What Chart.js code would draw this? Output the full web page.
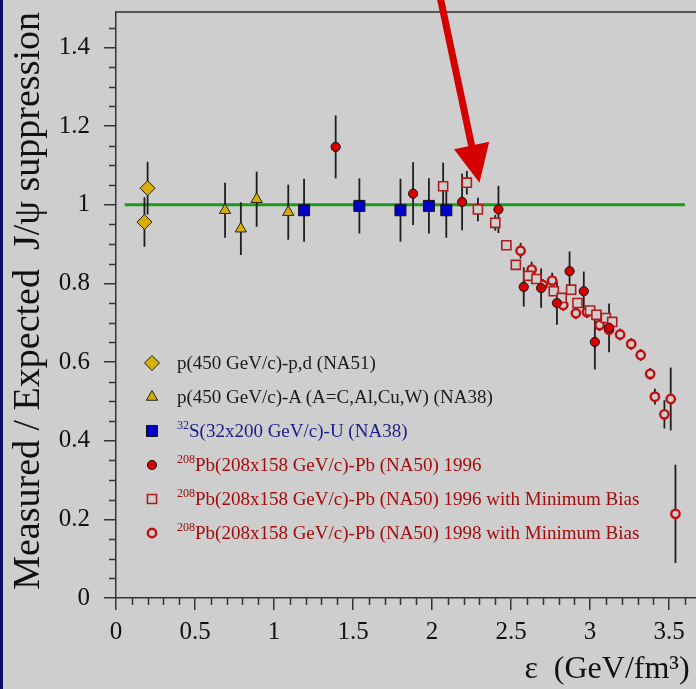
<!DOCTYPE html>
<html>
<head>
<meta charset="utf-8">
<script src="https://cdn.jsdelivr.net/npm/chart.js@4.4.0/dist/chart.umd.min.js"></script>
<style>
  html, body { margin: 0; padding: 0; background: #cecece; }
  #wrap { position: relative; width: 696px; height: 689px; overflow: hidden; background: #cecece; }
  #edge { position: absolute; left: 0; top: 0; width: 3px; height: 689px; background: #0b0b6a; }
  #legend { position: absolute; left: 139px; top: 346px; font-family: 'Liberation Serif', serif; font-size: 19px; }
  .row { height: 34px; display: flex; align-items: center; white-space: nowrap; }
  .row canvas { width: 26px; height: 26px; margin-right: 12px; }
  .row sup { font-size: 12px; vertical-align: 8px; line-height: 0; }
</style>
</head>
<body>
<div id="wrap">
  <canvas id="chart" width="696" height="689"></canvas>
  <div id="edge"></div>
  <div id="legend"></div>
</div>
<script>
// axis ticks
const xTickValues = [0, 0.5, 1, 1.5, 2, 2.5, 3, 3.5];
const xTickLabels = ['0', '0.5', '1', '1.5', '2', '2.5', '3', '3.5'];
const yTickValues = [0, 0.2, 0.4, 0.6, 0.8, 1, 1.2, 1.4];
const yTickLabels = ['0', '0.2', '0.4', '0.6', '0.8', '1', '1.2', '1.4'];

// p(450 GeV/c)-p,d (NA51)
const na51X = [0.20, 0.18];
const na51Y = [1.042, 0.956];
const na51Err = [0.067, 0.063];

// p(450 GeV/c)-A (NA38)
const na38pX = [0.69, 0.79, 0.89, 1.09];
const na38pY = [0.986, 0.939, 1.014, 0.981];
const na38pErr = [0.07, 0.067, 0.07, 0.07];

// 32S-U (NA38)
const suX = [1.19, 1.54, 1.80, 1.98, 2.09];
const suY = [0.986, 0.997, 0.986, 0.997, 0.986];
const suErr = [0.08, 0.07, 0.08, 0.07, 0.07];

// Pb-Pb 1996
const pb96X = [1.39, 1.88, 2.19, 2.42, 2.58, 2.69, 2.79, 2.87, 2.96, 3.03, 3.12];
const pb96Y = [1.147, 1.028, 1.007, 0.988, 0.791, 0.788, 0.750, 0.831, 0.780, 0.651, 0.687];
const pb96Err = [0.08, 0.08, 0.072, 0.06, 0.05, 0.05, 0.055, 0.05, 0.05, 0.07, 0.062];

// Pb-Pb 1996 with minimum bias
const pb96mbX = [2.07, 2.22, 2.29, 2.40, 2.47, 2.53, 2.61, 2.66, 2.77, 2.82, 2.88, 2.92, 3.00, 3.04, 3.10, 3.14];
const pb96mbY = [1.047, 1.056, 0.988, 0.954, 0.897, 0.847, 0.819, 0.811, 0.780, 0.763, 0.784, 0.750, 0.731, 0.720, 0.712, 0.702];
const pb96mbErr = [0.06, 0.03, 0.03, 0.02, 0, 0, 0, 0, 0, 0, 0, 0, 0, 0, 0, 0];

// Pb-Pb 1998 with minimum bias
const pb98mbX = [2.56, 2.63, 2.70, 2.76, 2.83, 2.91, 2.98, 3.06, 3.12, 3.19, 3.26, 3.32, 3.38, 3.41, 3.47, 3.51, 3.54];
const pb98mbY = [0.883, 0.835, 0.796, 0.807, 0.745, 0.724, 0.727, 0.694, 0.682, 0.670, 0.646, 0.618, 0.570, 0.512, 0.467, 0.506, 0.214];
const pb98mbErr = [0.02, 0.02, 0.015, 0.02, 0.015, 0.015, 0.015, 0.015, 0.015, 0.015, 0.015, 0.015, 0.015, 0.02, 0.036, 0.08, 0.125];

// reference line at 1 and the red arrow (data units)
const refLineX = [0.055, 3.60];
const refLineY = [1, 1];
const arrowTail = [2.05, 1.53];
const arrowTip = [2.30, 1.056];

const legendSup = ['', '', '32', '208', '208', '208'];
const legendText = [
  'p(450 GeV/c)-p,d (NA51)',
  'p(450 GeV/c)-A (A=C,Al,Cu,W) (NA38)',
  'S(32x200 GeV/c)-U (NA38)',
  'Pb(208x158 GeV/c)-Pb (NA50) 1996',
  'Pb(208x158 GeV/c)-Pb (NA50) 1996 with Minimum Bias',
  'Pb(208x158 GeV/c)-Pb (NA50) 1998 with Minimum Bias'
];
const legendColor = ['#1a1a1a', '#1a1a1a', '#1c1c8c', '#a30c0c', '#a30c0c', '#a30c0c'];

const BG = '#cecece';
const FONT = "'Liberation Serif', 'Times New Roman', serif";

function pts(xs, ys) {
  return xs.map((x, i) => ({ x: x, y: ys[i] }));
}

const datasets = [
  { label: legendText[0], data: pts(na51X, na51Y), errs: na51Err, pointStyle: 'rectRot', pointRadius: 7.5,
    backgroundColor: '#d6ad00', borderColor: '#222', borderWidth: 1 },
  { label: legendText[1], data: pts(na38pX, na38pY), errs: na38pErr, pointStyle: 'triangle', pointRadius: 6.5,
    backgroundColor: '#d6ad00', borderColor: '#222', borderWidth: 1 },
  { label: legendText[2], data: pts(suX, suY), errs: suErr, pointStyle: 'rect', pointRadius: 7.8,
    backgroundColor: '#0000c8', borderColor: '#111', borderWidth: 1 },
  { label: legendText[3], data: pts(pb96X, pb96Y), errs: pb96Err, pointStyle: 'circle', pointRadius: 4.6,
    backgroundColor: '#d40000', borderColor: '#111', borderWidth: 1 },
  { label: legendText[4], data: pts(pb96mbX, pb96mbY), errs: pb96mbErr, pointStyle: 'rect', pointRadius: 6.4,
    backgroundColor: BG, borderColor: '#b01c1c', borderWidth: 1.6 },
  { label: legendText[5], data: pts(pb98mbX, pb98mbY), errs: pb98mbErr, pointStyle: 'circle', pointRadius: 4.2,
    backgroundColor: BG, borderColor: '#c40d0d', borderWidth: 2.4 },
  { type: 'line', label: 'ref', data: pts(refLineX, refLineY), borderColor: '#1c9a1c', borderWidth: 3,
    pointRadius: 0, showLine: true }
];

const decor = {
  id: 'decor',
  afterDatasetDraw(chart, args) {
    // error bars go right after the reference line, under the markers
    if (args.index !== chart.data.datasets.length - 1) return;
    const xs = chart.scales.x, ys = chart.scales.y, ctx = chart.ctx;
    ctx.save();
    ctx.strokeStyle = '#1e1e1e';
    ctx.lineWidth = 1.8;
    chart.data.datasets.forEach(ds => {
      if (!ds.errs) return;
      ds.data.forEach((p, i) => {
        const e = ds.errs[i];
        if (!e) return;
        const px = xs.getPixelForValue(p.x);
        ctx.beginPath();
        ctx.moveTo(px, ys.getPixelForValue(p.y + e));
        ctx.lineTo(px, ys.getPixelForValue(p.y - e));
        ctx.stroke();
      });
    });
    ctx.restore();
  },
  afterDraw(chart) {
    const xs = chart.scales.x, ys = chart.scales.y, ctx = chart.ctx, a = chart.chartArea;
    ctx.save();
    // minor ticks
    ctx.strokeStyle = '#333';
    ctx.lineWidth = 1.5;
    for (let v = 0.1; v < xs.max; v += 0.1) {
      if (Math.abs(v * 2 - Math.round(v * 2)) < 1e-6) continue;
      const px = Math.round(xs.getPixelForValue(v)) + 0.5;
      ctx.beginPath(); ctx.moveTo(px, a.bottom); ctx.lineTo(px, a.bottom + 7); ctx.stroke();
    }
    for (let v = 0.05; v < ys.max; v += 0.05) {
      if (Math.abs(v * 5 - Math.round(v * 5)) < 1e-6) continue;
      const py = Math.round(ys.getPixelForValue(v)) + 0.5;
      ctx.beginPath(); ctx.moveTo(a.left, py); ctx.lineTo(a.left - 7, py); ctx.stroke();
    }
    // top frame
    ctx.strokeStyle = '#555';
    ctx.lineWidth = 2;
    ctx.beginPath(); ctx.moveTo(a.left, a.top); ctx.lineTo(chart.width, a.top); ctx.stroke();
    // red arrow
    const x0 = xs.getPixelForValue(arrowTail[0]), y0 = ys.getPixelForValue(arrowTail[1]);
    const x1 = xs.getPixelForValue(arrowTip[0]), y1 = ys.getPixelForValue(arrowTip[1]);
    const len = Math.hypot(x1 - x0, y1 - y0);
    const ux = (x1 - x0) / len, uy = (y1 - y0) / len;
    const headLen = 38, headHalf = 18;
    const bx = x1 - ux * headLen, by = y1 - uy * headLen;
    ctx.strokeStyle = '#d40000';
    ctx.lineWidth = 7;
    ctx.beginPath(); ctx.moveTo(x0, y0); ctx.lineTo(bx + ux * 2, by + uy * 2); ctx.stroke();
    ctx.fillStyle = '#d40000';
    ctx.beginPath();
    ctx.moveTo(x1, y1);
    ctx.lineTo(bx - uy * headHalf, by + ux * headHalf);
    ctx.lineTo(bx + uy * headHalf, by - ux * headHalf);
    ctx.closePath();
    ctx.fill();
    ctx.restore();
  }
};

const chart = new Chart(document.getElementById('chart'), {
  type: 'scatter',
  data: { datasets: datasets },
  options: {
    responsive: false,
    devicePixelRatio: 1,
    animation: false,
    layout: { autoPadding: false, padding: { top: 12, right: 0, bottom: 0, left: 0 } },
    plugins: { legend: { display: false }, tooltip: { enabled: false } },
    scales: {
      x: {
        type: 'linear', min: 0, max: 3.67,
        afterBuildTicks: s => { s.ticks = xTickValues.map(v => ({ value: v })); },
        afterFit: s => { s.height = 91; s.paddingRight = 0; },
        ticks: { callback: (v, i) => xTickLabels[i], font: { family: FONT, size: 25 }, color: '#111',
          padding: 7, maxRotation: 0, autoSkip: false },
        grid: { drawOnChartArea: false, drawTicks: true, tickLength: 12, color: '#333', lineWidth: 1.5 },
        border: { display: true, color: '#333', width: 1.5 },
        title: { display: true, text: 'ε  (GeV/fm³)\u2009', align: 'end', color: '#111',
          font: { family: FONT, size: 32 }, padding: { top: 0, bottom: 0 } }
      },
      y: {
        type: 'linear', min: 0, max: 1.49,
        afterBuildTicks: s => { s.ticks = yTickValues.map(v => ({ value: v })); },
        afterFit: s => { s.width = 116; s.paddingTop = 0; },
        ticks: { callback: (v, i) => yTickLabels[i], font: { family: FONT, size: 25 }, color: '#111',
          padding: 14, autoSkip: false },
        grid: { drawOnChartArea: false, drawTicks: true, tickLength: 12, color: '#333', lineWidth: 1.5 },
        border: { display: true, color: '#333', width: 1.5 },
        title: { display: true, text: 'Measured / Expected  J/ψ suppression', align: 'end', color: '#111',
          font: { family: FONT, size: 38 }, padding: { top: 6, bottom: 0 } }
      }
    }
  },
  plugins: [decor]
});

// legend overlay (needs superscripts), markers drawn with Chart.js helpers
const legendDiv = document.getElementById('legend');
datasets.slice(0, 6).forEach((ds, i) => {
  const row = document.createElement('div');
  row.className = 'row';
  const c = document.createElement('canvas');
  c.width = 26; c.height = 26;
  const cx = c.getContext('2d');
  cx.fillStyle = ds.backgroundColor;
  cx.strokeStyle = ds.borderColor;
  cx.lineWidth = ds.borderWidth;
  Chart.helpers.drawPoint(cx, { pointStyle: ds.pointStyle, radius: ds.pointRadius, rotation: 0,
    borderWidth: ds.borderWidth }, 13, 13);
  row.appendChild(c);
  const span = document.createElement('span');
  span.style.color = legendColor[i];
  if (legendSup[i]) {
    const sup = document.createElement('sup');
    sup.textContent = legendSup[i];
    span.appendChild(sup);
  }
  span.appendChild(document.createTextNode(legendText[i]));
  row.appendChild(span);
  legendDiv.appendChild(row);
});
</script>
</body>
</html>
